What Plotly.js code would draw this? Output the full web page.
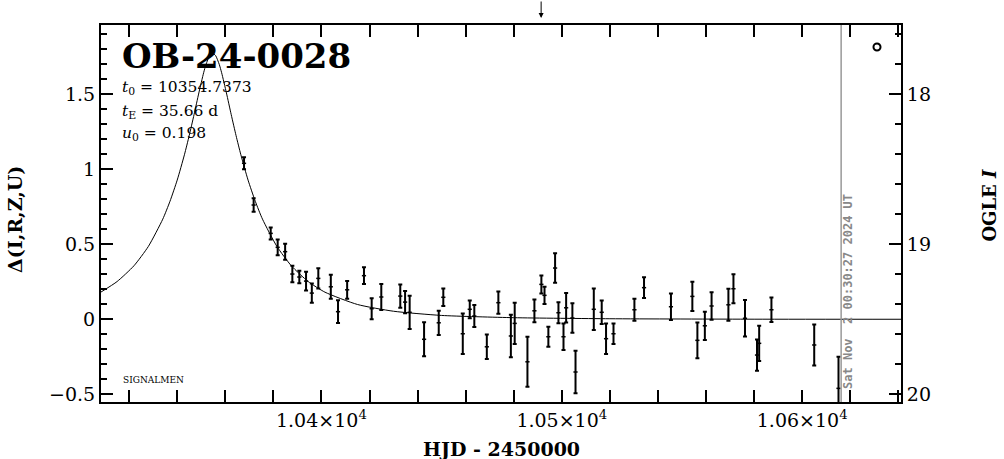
<!DOCTYPE html>
<html>
<head>
<meta charset="utf-8">
<script src="https://cdn.plot.ly/plotly-3.0.1.min.js"></script>
<style>html,body{margin:0;padding:0;background:#fff;}#chart{width:1004px;height:459px;}</style>
</head>
<body>
<div id="chart"></div>
<script>
// Observations: HJD-2450000, Delta mag, error
const obsT = [10367.8,10371.8,10378.9,10381.8,10384.9,10387.9,10390.8,10393.6,10396.0,10398.7,
  10403.9,10406.9,10410.7,10417.7,10420.9,10424.9,10432.8,10434.8,10436.7,10442.7,
  10448.8,10450.7,10458.8,10461.7,10463.6,10468.8,10473.6,10478.8,10480.4,10485.7,
  10488.6,10491.5,10492.8,10494.4,10497.2,10498.6,10500.7,10501.8,10504.4,10505.7,
  10513.3,10516.6,10518.4,10521.5,10530.2,10534.2,10545.4,10554.3,10556.4,10559.5,
  10562.3,10569.3,10571.4,10576.2,10581.2,10582.1,10587.2,10605.0,10615.1];
const obsD = [1.040,0.762,0.573,0.480,0.451,0.302,0.282,0.255,0.175,0.273,
  0.217,0.051,0.197,0.291,0.071,0.149,0.155,0.115,0.047,-0.133,
  -0.023,0.147,-0.096,0.067,0.022,-0.183,0.111,-0.111,-0.027,-0.283,
  0.057,0.233,0.160,-0.116,0.342,0.044,-0.116,0.077,0.009,-0.351,
  0.067,0.047,-0.129,-0.096,0.064,0.211,0.084,0.153,-0.140,-0.043,
  0.089,0.097,0.204,0.007,-0.238,-0.160,0.064,-0.171,-0.460];
const obsE = [0.040,0.045,0.040,0.052,0.053,0.055,0.042,0.063,0.064,0.067,
  0.080,0.076,0.059,0.056,0.070,0.086,0.078,0.074,0.111,0.113,
  0.081,0.058,0.135,0.059,0.073,0.082,0.074,0.142,0.137,0.167,
  0.076,0.060,0.058,0.067,0.098,0.070,0.089,0.098,0.098,0.142,
  0.138,0.078,0.102,0.069,0.074,0.069,0.089,0.098,0.119,0.094,
  0.092,0.107,0.097,0.122,0.104,0.117,0.081,0.136,0.210];

// Model curve
const modelT = [10308.3,10315,10322,10328,10334,10337,10340,10343,10345,10347,10349,10351,10352,10353.5,
  10354.74,10355.98,10357.48,10358.48,10360.48,10362.48,10364.48,10366.48,10369.48,10372.48,10375.48,
  10381.48,10387.48,10394.48,10401.48,10415,10430,10450,10480,10520,10580,10641.1];
const modelD = [0.182,0.252,0.357,0.486,0.668,0.787,0.928,1.097,1.225,1.364,1.509,1.644,1.700,1.758,
  1.774,1.758,1.700,1.644,1.509,1.364,1.225,1.097,0.928,0.787,0.668,
  0.486,0.357,0.252,0.181,0.099,0.054,0.026,0.011,0.004,0.001,0.0005];

const xTickVals = [10400,10500,10600];
const xTickText = ['1.04×10<sup>4</sup>','1.05×10<sup>4</sup>','1.06×10<sup>4</sup>'];
const yTickVals = [-0.5,0,0.5,1,1.5];
const yTickText = ['−0.5','0','0.5','1','1.5'];
const y2TickVals = [18,19,20];
const y2TickText = ['18','19','20'];

const eventName = 'OB-24-0028';
const paramLines = ['<i>t</i><sub>0</sub> = 10354.7373','<i>t</i><sub>E</sub> = 35.66 d','<i>u</i><sub>0</sub> = 0.198'];
const nowHJD = 10616.2;
const arrowHJD = 10491.4;
const stamp = 'Sat Nov  2 00:30:27 2024 UT';

const tickFont = {family:'DejaVu Serif', size:19, color:'#000'};

const traces = [
  {x:modelT, y:modelD, mode:'lines', line:{color:'#000', width:1, shape:'spline', smoothing:0.6},
   hoverinfo:'skip', showlegend:false},
  {x:obsT, y:obsD, mode:'markers', showlegend:false,
   marker:{symbol:'line-ew', size:3, color:'#000', line:{color:'#000', width:1.5}},
   error_y:{type:'data', array:obsE, visible:true, color:'#000', thickness:2, width:2}},
  {x:[], y:[], yaxis:'y2', showlegend:false}
];

const layout = {
  width:1004, height:459,
  margin:{l:101, r:103, t:25, b:57},
  paper_bgcolor:'#fff', plot_bgcolor:'#fff',
  showlegend:false,
  xaxis:{range:[10308.3,10641.1], showgrid:false, zeroline:false,
    showline:true, linecolor:'#000', linewidth:2, mirror:'allticks',
    ticks:'inside', ticklen:12, tickwidth:2, tickcolor:'#000',
    tickmode:'array', tickvals:xTickVals, ticktext:xTickText, tickfont:tickFont,
    minor:{tickmode:'linear', tick0:10300, dtick:20, ticks:'inside', ticklen:6, tickwidth:2, tickcolor:'#000', showgrid:false}},
  yaxis:{range:[-0.551,1.962], showgrid:false, zeroline:false,
    showline:true, linecolor:'#000', linewidth:2,
    ticks:'inside', ticklen:12, tickwidth:2, tickcolor:'#000',
    tickmode:'array', tickvals:yTickVals, ticktext:yTickText, tickfont:tickFont,
    minor:{tickmode:'linear', tick0:0, dtick:0.1, ticks:'inside', ticklen:6, tickwidth:2, tickcolor:'#000', showgrid:false}},
  yaxis2:{overlaying:'y', side:'right', range:[20.051,17.538], showgrid:false, zeroline:false,
    showline:true, linecolor:'#000', linewidth:2,
    ticks:'inside', ticklen:12, tickwidth:2, tickcolor:'#000',
    tickmode:'array', tickvals:y2TickVals, ticktext:y2TickText, tickfont:tickFont,
    minor:{tickmode:'linear', tick0:18, dtick:0.2, ticks:'inside', ticklen:6, tickwidth:2, tickcolor:'#000', showgrid:false}},
  shapes:[
    {type:'line', xref:'x', yref:'paper', x0:nowHJD, x1:nowHJD, y0:0, y1:1, line:{color:'#999', width:1.5}},
    {type:'circle', xref:'paper', yref:'paper', x0:0.9656, x1:0.9744, y0:0.9324, y1:0.9509, line:{color:'#000', width:2}}
  ],
  annotations:[
    {xref:'paper', yref:'paper', x:0.02375, y:0.9178, xanchor:'left', yanchor:'middle', showarrow:false,
     text:eventName, font:{family:'DejaVu Serif', size:34, color:'#000', weight:'bold'}},
    {xref:'paper', yref:'paper', x:0.02375, y:0.8329, xanchor:'left', yanchor:'middle', showarrow:false,
     text:paramLines[0], font:{family:'DejaVu Serif', size:15.5, color:'#000'}},
    {xref:'paper', yref:'paper', x:0.02375, y:0.7692, xanchor:'left', yanchor:'middle', showarrow:false,
     text:paramLines[1], font:{family:'DejaVu Serif', size:15.5, color:'#000'}},
    {xref:'paper', yref:'paper', x:0.02375, y:0.7109, xanchor:'left', yanchor:'middle', showarrow:false,
     text:paramLines[2], font:{family:'DejaVu Serif', size:15.5, color:'#000'}},
    {xref:'paper', yref:'paper', x:0.025, y:0.0584, xanchor:'left', yanchor:'middle', showarrow:false,
     text:'SIGNALMEN', font:{family:'DejaVu Serif', size:9, color:'#000'}},
    {xref:'paper', yref:'paper', x:0.93375, y:0.2918, xanchor:'center', yanchor:'middle', showarrow:false, textangle:-90,
     text:stamp, font:{family:'DejaVu Sans Mono', size:12, color:'#888', weight:'bold'}},
    {xref:'x', yref:'paper', x:arrowHJD, y:1.0186, ax:0, ay:-18, showarrow:true, arrowhead:2, arrowsize:1, arrowwidth:1, arrowcolor:'#000', text:''},
    {xref:'paper', yref:'paper', x:0.5, y:-0.1247, xanchor:'center', yanchor:'middle', showarrow:false,
     text:'HJD - 2450000', font:{family:'DejaVu Serif', size:19, color:'#000', weight:'bold'}},
    {xref:'paper', yref:'paper', x:-0.1075, y:0.4828, xanchor:'center', yanchor:'middle', showarrow:false, textangle:-90,
     text:'Δ(I,R,Z,U)', font:{family:'DejaVu Serif', size:19, color:'#000', weight:'bold'}},
    {xref:'paper', yref:'paper', x:1.1095, y:0.5225, xanchor:'center', yanchor:'middle', showarrow:false, textangle:-90,
     text:'OGLE <i>I</i>', font:{family:'DejaVu Serif', size:18, color:'#000', weight:'bold'}}
  ]
};

Plotly.newPlot('chart', traces, layout, {displayModeBar:false, staticPlot:true});
</script>
</body>
</html>
